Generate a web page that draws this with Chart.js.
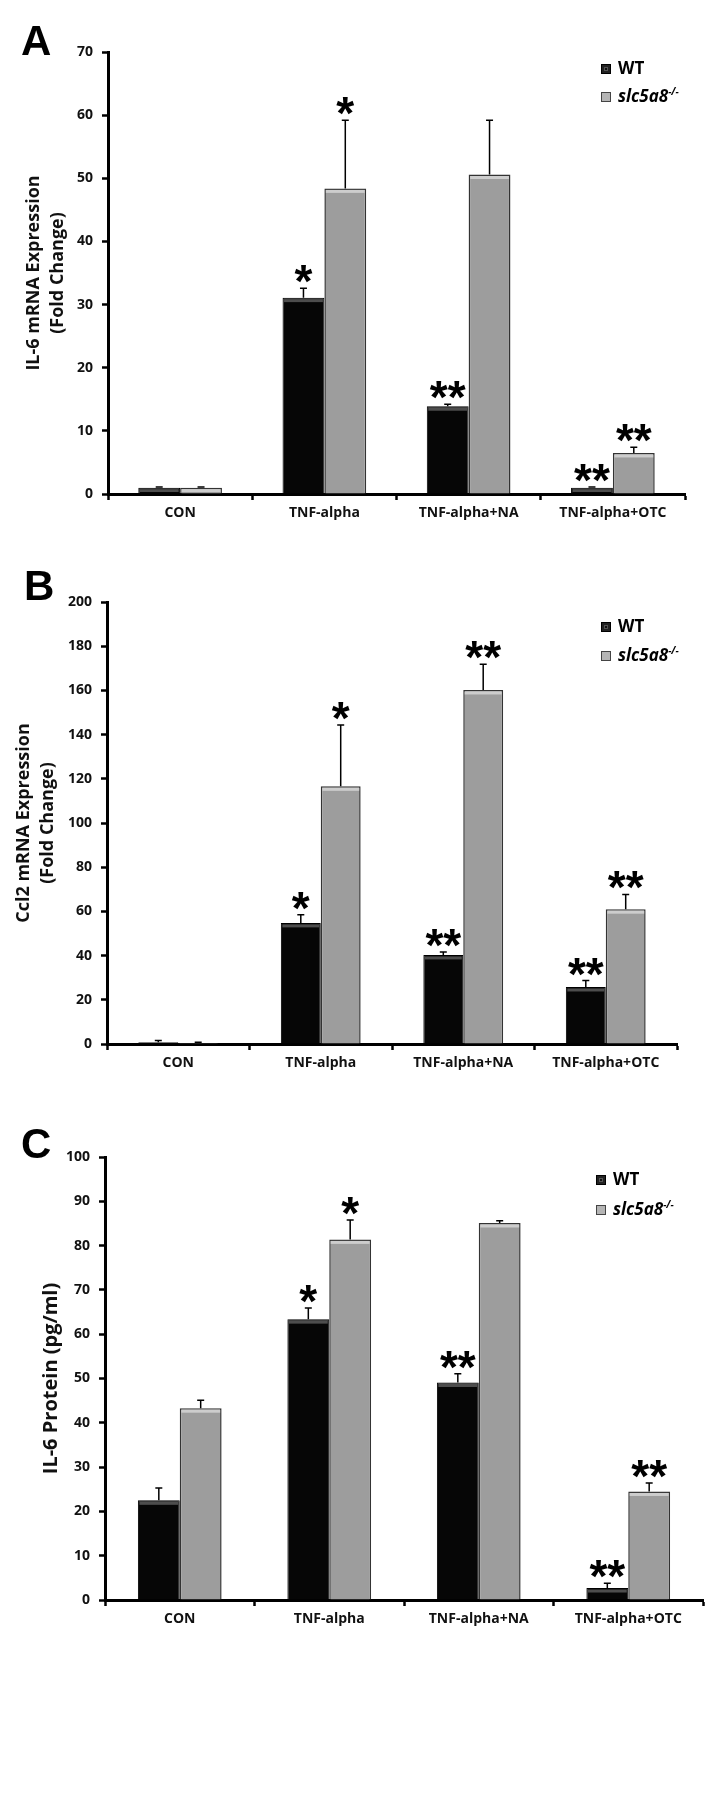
<!DOCTYPE html>
<html>
<head>
<meta charset="utf-8">
<script src="https://cdn.jsdelivr.net/npm/chart.js@4.4.1/dist/chart.umd.min.js"></script>
<style>
  body { margin: 0; background: #fff; width: 721px; height: 1799px; position: relative; overflow: hidden; }
  .panel { position: absolute; left: 0; width: 721px; height: 540px; }
  .panel canvas { position: absolute; left: 0; top: 0; }
  .letter { position: absolute; font-family: 'Liberation Sans', Arial, sans-serif; font-weight: bold; font-size: 42px; line-height: 42px; color: #000; }
  .item { position: absolute; height: 20px; line-height: 20px; font-family: 'Open Sans', sans-serif; font-weight: bold; font-size: 17px; color: #000; white-space: nowrap; }
  .sw { display: inline-block; width: 10px; height: 10px; margin-right: 7px; vertical-align: 0px; box-sizing: border-box; }
  .sw.wt { background: #111; border: 1px solid #000; box-shadow: inset 0 0 0 2px #222, inset 0 0 0 3px #555; }
  .sw.ko { background: #b5b5b5; border: 1px solid #444; }
  .item sup { font-size: 10px; font-style: italic; vertical-align: 7px; line-height: 0; }
</style>
</head>
<body>

<div class="panel" style="top:0px;">
  <canvas id="chartA" width="721" height="540"></canvas>
  <div class="letter" style="left:21px;top:20px;">A</div>
  <div class="item" style="left:601px;top:58px;"><span class="sw wt"></span>WT</div>
  <div class="item" style="left:601px;top:86px;"><span class="sw ko"></span><i>slc5a8</i><sup>-/-</sup></div>
</div>

<div class="panel" style="top:560px;">
  <canvas id="chartB" width="721" height="540"></canvas>
  <div class="letter" style="left:24px;top:5px;">B</div>
  <div class="item" style="left:601px;top:56px;"><span class="sw wt"></span>WT</div>
  <div class="item" style="left:601px;top:85px;"><span class="sw ko"></span><i>slc5a8</i><sup>-/-</sup></div>
</div>

<div class="panel" style="top:1120px;">
  <canvas id="chartC" width="721" height="540"></canvas>
  <div class="letter" style="left:21px;top:3px;">C</div>
  <div class="item" style="left:596px;top:49px;"><span class="sw wt"></span>WT</div>
  <div class="item" style="left:596px;top:79px;"><span class="sw ko"></span><i>slc5a8</i><sup>-/-</sup></div>
</div>

<script>
// categories shared by all three panels
const categories = ['CON', 'TNF-alpha', 'TNF-alpha+NA', 'TNF-alpha+OTC'];

// A: IL-6 mRNA expression (fold change)
const il6mrnaWT = [1.0, 31.1, 13.9, 1.0];
const il6mrnaWTErr = [0.1, 1.5, 0.3, 0.1];
const il6mrnaWTSig = ['', '*', '**', '**'];
const il6mrnaKO = [1.0, 48.4, 50.6, 6.5];
const il6mrnaKOErr = [0.1, 10.8, 8.6, 0.9];
const il6mrnaKOSig = ['', '*', '', '**'];

// B: Ccl2 mRNA expression (fold change)
const ccl2WT = [0.8, 54.8, 40.3, 25.8];
const ccl2WTErr = [0.8, 3.7, 1.3, 2.9];
const ccl2WTSig = ['', '*', '**', '**'];
const ccl2KO = [0.5, 116.6, 160.2, 61.0];
const ccl2KOErr = [0.3, 27.8, 11.6, 6.7];
const ccl2KOSig = ['', '*', '**', '**'];

// C: IL-6 protein (pg/ml)
const il6protWT = [22.5, 63.4, 49.1, 2.7];
const il6protWTErr = [2.8, 2.5, 2.0, 1.1];
const il6protWTSig = ['', '*', '**', '**'];
const il6protKO = [43.3, 81.4, 85.1, 24.5];
const il6protKOErr = [1.8, 4.4, 0.5, 1.9];
const il6protKOSig = ['', '*', '', '**'];

const FONT = "'Open Sans', sans-serif";

// 柱頂亮邊 + 誤差線 + 顯著性星號
const barDecor = {
    id: 'barDecor',
    afterDatasetsDraw(chart) {
        const ctx = chart.ctx;
        const yScale = chart.scales.y;
        ctx.save();
        chart.data.datasets.forEach((ds, i) => {
            const meta = chart.getDatasetMeta(i);
            meta.data.forEach((bar, j) => {
                const p = bar.getProps(['x', 'y', 'width', 'base'], true);
                const h = p.base - p.y;
                // top highlight band
                ctx.fillStyle = i === 0 ? '#4d4d4d' : '#cdcdcd';
                ctx.fillRect(p.x - p.width / 2 + 1.5, p.y + 1.5, p.width - 3, Math.max(0, Math.min(3, h - 3)));

                // error bar (upper only)
                const top = yScale.getPixelForValue(ds.data[j] + ds.errors[j]);
                ctx.strokeStyle = '#000';
                ctx.lineWidth = 1.5;
                ctx.beginPath();
                ctx.moveTo(p.x, p.y);
                ctx.lineTo(p.x, top);
                ctx.moveTo(p.x - 3.5, top);
                ctx.lineTo(p.x + 3.5, top);
                ctx.stroke();

                // stars
                const txt = ds.marks[j];
                if (txt) {
                    ctx.font = "bold 46px 'Liberation Sans', Arial, sans-serif";
                    ctx.fillStyle = '#000';
                    ctx.textAlign = 'center';
                    ctx.textBaseline = 'alphabetic';
                    const m = ctx.measureText(txt);
                    ctx.fillText(txt, p.x, top - 5 - m.actualBoundingBoxDescent);
                }
            });
        });
        ctx.restore();
    }
};

function buildPanel(canvasId, o) {
    return new Chart(document.getElementById(canvasId), {
        type: 'bar',
        data: {
            labels: categories,
            datasets: [
                { label: 'WT', data: o.wt, errors: o.wtErr, marks: o.wtSig,
                  backgroundColor: '#060606', borderColor: '#000', borderWidth: 1 },
                { label: 'slc5a8-/-', data: o.ko, errors: o.koErr, marks: o.koSig,
                  backgroundColor: '#9d9d9d', borderColor: '#333', borderWidth: 1.5 }
            ]
        },
        options: {
            responsive: false,
            animation: false,
            layout: { padding: { top: o.padTop, right: o.padRight, bottom: o.padBottom, left: 0 } },
            datasets: { bar: { categoryPercentage: o.catPct, barPercentage: 1 } },
            plugins: { legend: { display: false }, tooltip: { enabled: false } },
            scales: {
                x: {
                    offset: true,
                    grid: { offset: true, drawOnChartArea: false, drawTicks: true, tickLength: 6,
                            color: '#000', tickColor: '#000', tickWidth: 2.5 },
                    border: { display: true, color: '#000', width: 3 },
                    ticks: { color: '#111', padding: 5, maxRotation: 0, autoSkip: false,
                             font: { family: FONT, size: 14, weight: 'bold' } },
                    afterFit: (s) => { s.height = 40; }
                },
                y: {
                    min: 0, max: o.max,
                    grid: { drawOnChartArea: false, drawTicks: true, tickLength: 6,
                            color: '#000', tickColor: '#000', tickWidth: 2.5 },
                    border: { display: true, color: '#000', width: 3 },
                    ticks: { stepSize: o.step, color: '#111', padding: 9,
                             font: { family: FONT, size: 14, weight: 'bold' } },
                    title: { display: true, text: o.title, color: '#111',
                             padding: { top: o.titlePad, bottom: 0 },
                             font: { family: FONT, size: o.titleSize, weight: 'bold', lineHeight: 1.33 } },
                    afterFit: (s) => { s.width = o.axisLeft; }
                }
            }
        },
        plugins: [barDecor]
    });
}

buildPanel('chartA', {
    wt: il6mrnaWT, wtErr: il6mrnaWTErr, wtSig: il6mrnaWTSig,
    ko: il6mrnaKO, koErr: il6mrnaKOErr, koSig: il6mrnaKOSig,
    max: 70, step: 10, title: ['IL-6 mRNA Expression', '(Fold Change)'], titleSize: 18, titlePad: 22,
    axisLeft: 108, padTop: 52, padRight: 36, padBottom: 6, catPct: 0.58
});

buildPanel('chartB', {
    wt: ccl2WT, wtErr: ccl2WTErr, wtSig: ccl2WTSig,
    ko: ccl2KO, koErr: ccl2KOErr, koSig: ccl2KOSig,
    max: 200, step: 20, title: ['Ccl2 mRNA Expression', '(Fold Change)'], titleSize: 18, titlePad: 12,
    axisLeft: 107, padTop: 42, padRight: 44, padBottom: 16, catPct: 0.56
});

buildPanel('chartC', {
    wt: il6protWT, wtErr: il6protWTErr, wtSig: il6protWTSig,
    ko: il6protKO, koErr: il6protKOErr, koSig: il6protKOSig,
    max: 100, step: 10, title: 'IL-6 Protein (pg/ml)', titleSize: 20, titlePad: 38,
    axisLeft: 105, padTop: 37, padRight: 18, padBottom: 20, catPct: 0.56
});
</script>
</body>
</html>
